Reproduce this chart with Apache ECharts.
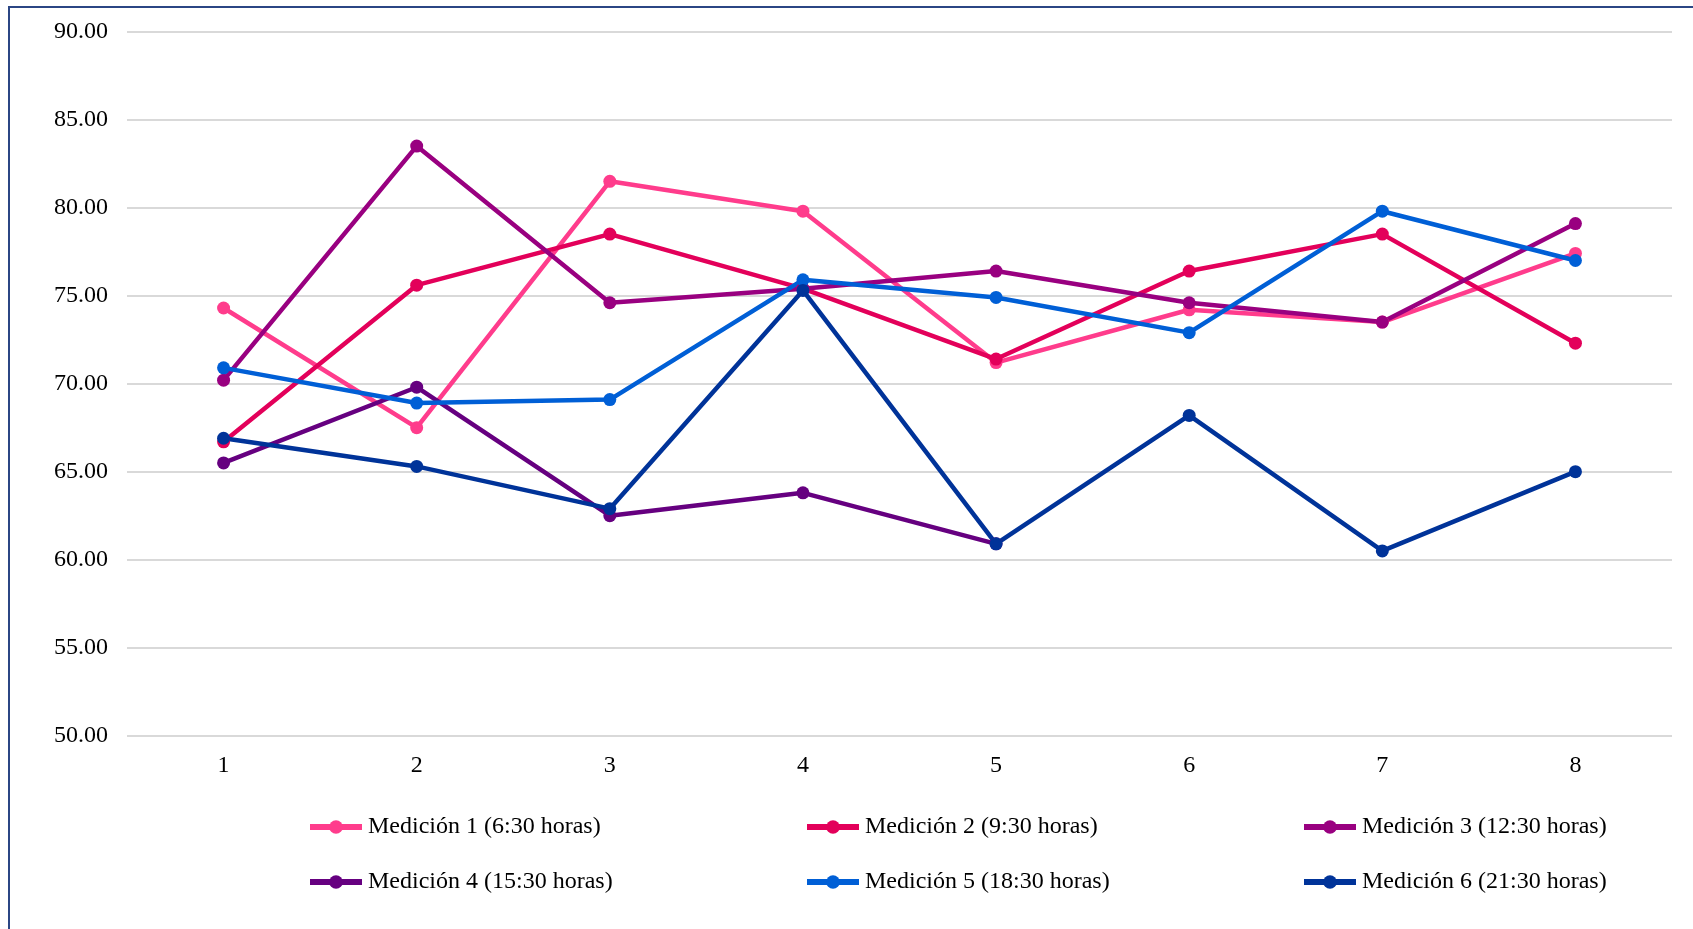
<!DOCTYPE html>
<html>
<head>
    <meta charset="utf-8">
    <title>Mediciones</title>
    <script src="https://cdnjs.cloudflare.com/ajax/libs/echarts/6.0.0/echarts.min.js"></script>
    <style>
        html, body { margin: 0; padding: 0; overflow: hidden; background: #fff; }
        #frame { position: absolute; left: 8px; top: 6px; width: 2000px; height: 2000px;
                 border-left: 2px solid #2b4684; border-top: 2px solid #2b4684; }
        #main { position: absolute; left: 0; top: 0; width: 1693px; height: 929px; }
    </style>
</head>
<body>
<div id="frame"></div>
<div id="main"></div>

<script>
    // datos
    const categories = ['1', '2', '3', '4', '5', '6', '7', '8'];
    const names = [
        'Medición 1 (6:30 horas)',
        'Medición 2 (9:30 horas)',
        'Medición 3 (12:30 horas)',
        'Medición 4 (15:30 horas)',
        'Medición 5 (18:30 horas)',
        'Medición 6 (21:30 horas)'
    ];
    const medicion1 = [74.3, 67.5, 81.5, 79.8, 71.2, 74.2, 73.5, 77.4];
    const medicion2 = [66.7, 75.6, 78.5, 75.4, 71.4, 76.4, 78.5, 72.3];
    const medicion3 = [70.2, 83.5, 74.6, 75.4, 76.4, 74.6, 73.5, 79.1];
    const medicion4 = [65.5, 69.8, 62.5, 63.8, 60.9, null, null, null];
    const medicion5 = [70.9, 68.9, 69.1, 75.9, 74.9, 72.9, 79.8, 77.0];
    const medicion6 = [66.9, 65.3, 62.9, 75.3, 60.9, 68.2, 60.5, 65.0];
    const allData = [medicion1, medicion2, medicion3, medicion4, medicion5, medicion6];
    const colors = ['#ff3c8c', '#e3005a', '#990080', '#660080', '#005fd6', '#003399'];

    const font = '"Liberation Serif", "Times New Roman", serif';

    let series = names.map(function (n, i) {
        return {
            name: n,
            type: 'line',
            data: allData[i],
            symbol: 'circle',
            symbolSize: 13,
            lineStyle: { width: 4.5, color: colors[i] },
            itemStyle: { color: colors[i] },
            emphasis: { disabled: true },
            animation: false
        };
    });

    // leyenda en 3 columnas x 2 filas
    let legendLeft = [307, 804, 1301];
    let legendTop = [815, 870];
    let legends = names.map(function (n, i) {
        return {
            data: [n],
            left: legendLeft[i % 3],
            top: legendTop[Math.floor(i / 3)],
            padding: 0,
            itemWidth: 52,
            itemHeight: 17,
            itemGap: 0,
            lineStyle: { width: 6 },
            textStyle: { fontFamily: font, fontSize: 24, color: '#000', padding: [0, 0, 0, 1] }
        };
    });

    var myChart = echarts.init(document.getElementById('main'));
    myChart.setOption({
        color: colors,
        grid: { left: 127, right: 21, top: 31.7, bottom: 193.3, containLabel: false },
        legend: legends,
        xAxis: {
            type: 'category',
            data: categories,
            boundaryGap: true,
            axisLine: { show: false },
            axisTick: { show: false },
            axisLabel: { fontFamily: font, fontSize: 24, color: '#000', margin: 18 }
        },
        yAxis: {
            type: 'value',
            min: 50,
            max: 90,
            interval: 5,
            axisLine: { show: false },
            axisTick: { show: false },
            splitLine: { lineStyle: { color: '#d9d9d9', width: 2 } },
            axisLabel: {
                fontFamily: font, fontSize: 24, color: '#000', margin: 19,
                formatter: function (v) { return v.toFixed(2); }
            }
        },
        series: series
    });
</script>
</body>
</html>
